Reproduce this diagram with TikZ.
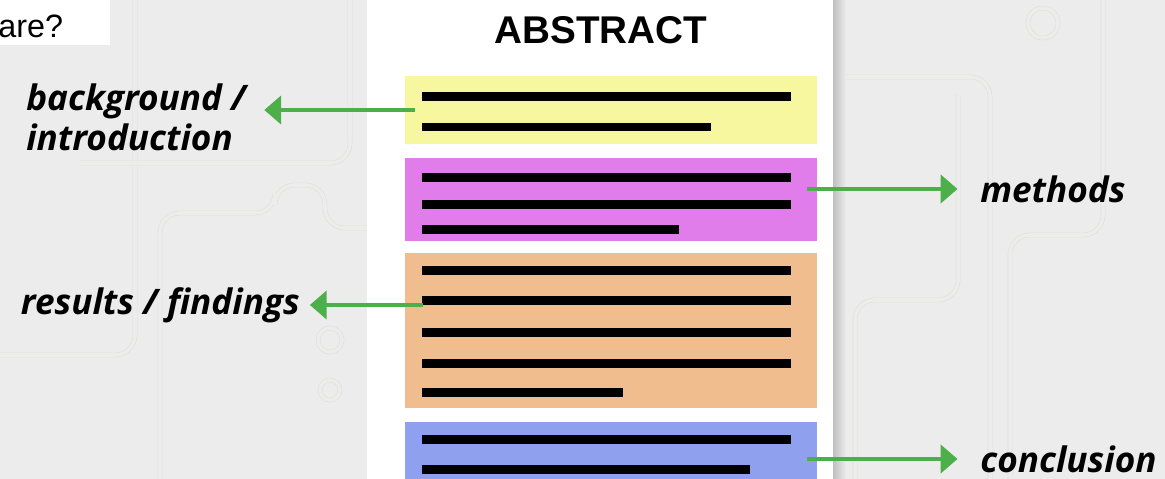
\documentclass[tikz,border=0pt]{standalone}
\usepackage{fontspec}
\setmainfont{Liberation Sans}
\newfontfamily\labelfont{Open Sans}
\usetikzlibrary{arrows.meta}

\definecolor{wallgray}{HTML}{ECECEC}
\definecolor{tracegray}{HTML}{DFDFD7}
\definecolor{bgyellow}{HTML}{F6F79E}
\definecolor{bgmagenta}{HTML}{E17DEA}
\definecolor{bgorange}{HTML}{EFBD8E}
\definecolor{bgblue}{HTML}{8FA0EE}
\definecolor{arrowgreen}{HTML}{4DAF4A}

\begin{document}
\begin{tikzpicture}[x=0.025cm,y=-0.025cm,
  part/.style={draw=none, inner sep=0, minimum width=10.3cm},
  textbar/.style={line width=6.4pt},
  flow/.style={arrowgreen, line width=2.8pt, -{Triangle[length=12pt,width=20pt]}},
  tag/.style={font=\labelfont\bfseries\itshape\fontsize{25}{28.4}\selectfont, inner sep=0},
  trace/.style={draw=tracegray, line width=0.4pt, double=wallgray, double distance=2.5pt, rounded corners=14pt}]
\useasboundingbox (0,0) rectangle (1165,479);
% wall behind the sheet
\fill[wallgray] (0,0) rectangle (1165,479);
\draw[trace] (135,0) -- (135,355) -- (0,355);
\draw[trace] (80,163) -- (350,163) -- (350,0);
\draw[trace] (160,479) -- (160,213) -- (275,213) -- (275,185) -- (325,185) -- (325,228) -- (367,228);
\draw[trace] (330,340) circle (12) (330,390) circle (10);
\draw[trace] (845,23) -- (1165,23);
\draw[trace, fill=wallgray] (1043,23) circle (15);
\draw[trace] (845,77) -- (990,77) -- (990,479);
\draw[trace] (958,0) -- (958,60);
\draw[trace] (958,95) -- (958,300) -- (855,300) -- (855,479);
\draw[trace] (1103,0) -- (1103,235) -- (1010,235) -- (1010,479);
% sheet
\fill[white] (367,0) rectangle (833,479);
\shade[left color=black!25, right color=wallgray] (833,0) rectangle (846,479);
\fill[white] (0,0) rectangle (110,45);
\node[anchor=west, font=\fontsize{23}{26}\selectfont, inner sep=0] (question) at (-2,26) {are?};
\node[font=\bfseries\fontsize{27.5}{30}\selectfont] (title) at (601,30) {ABSTRACT};

\node[part, fill=bgyellow,  minimum height=1.7cm]   (intro) at (611,110) {};
\node[part, fill=bgmagenta, minimum height=2.075cm] (meth)  at (611,199.5) {};
\node[part, fill=bgorange,  minimum height=3.875cm] (res)   at (611,330.5) {};
\node[part, fill=bgblue,    minimum height=1.75cm]  (concl) at (611,457) {};

\foreach \y/\e in {97/791,127/711,177/791,204/791,229/679,270/791,300/791,332/791,363/791,392/623,439/791,469/750}
  \draw[textbar] (422,\y) -- (\e,\y);

\node[tag, anchor=west, align=left] (introtxt) at (26,117) {background /\\introduction};
\node[tag, anchor=west] (methtxt)  at (980,189) {methods};
\node[tag, anchor=east] (restxt)   at (300,305) {results / findings};
\node[tag, anchor=west] (concltxt) at (980,459) {conclusion};

\coordinate (introout) at (415,110);
\coordinate (methout)  at (807,189);
\coordinate (resout)   at (423,305);
\coordinate (conclout) at (807,459);
\draw[flow, shorten >=12.8pt] (introout) -- (introtxt.east |- introout);
\draw[flow, shorten >=16pt]   (methout)  -- (methtxt.west);
\draw[flow, shorten >=7pt]    (resout)   -- (restxt.east);
\draw[flow, shorten >=16pt]   (conclout) -- (concltxt.west);
\end{tikzpicture}
\end{document}
